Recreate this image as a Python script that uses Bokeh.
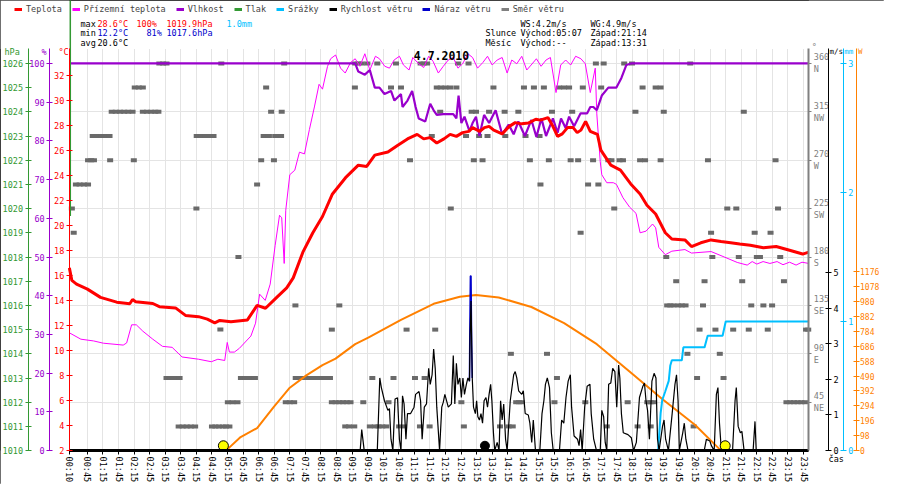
from bokeh.plotting import figure
from bokeh.models import (Range1d, LinearAxis, FixedTicker, Label, Legend, LegendItem, Grid, BoxAnnotation)
from bokeh.embed import file_html
from bokeh.resources import INLINE

FONT = "DejaVu Sans Mono"
FS = "8.5px"
NAN = float("nan")

# ---------------- data (time in hours) ----------------
time_labels = ["00:10", "00:45", "01:15", "01:45", "02:15", "02:45", "03:15", "03:45", "04:15", "04:45",
               "05:15", "05:45", "06:15", "06:45", "07:15", "07:45", "08:15", "08:45", "09:15", "09:45",
               "10:15", "10:45", "11:15", "11:45", "12:15", "12:45", "13:15", "13:45", "14:15", "14:45",
               "15:15", "15:45", "16:15", "16:45", "17:15", "17:45", "18:15", "18:45", "19:15", "19:45",
               "20:15", "20:45", "21:15", "21:45", "22:15", "22:45", "23:15", "23:45"]

temperature = [(0.17, 16.6), (0.25, 15.6), (0.40, 15.3), (0.75, 14.9), (1.17, 14.24), (1.69, 13.86), (2.11, 13.73),
               (2.20, 14.07), (2.30, 13.9), (2.85, 13.75), (3.06, 13.5), (3.58, 13.4), (3.90, 12.8), (4.32, 12.7),
               (4.60, 12.5), (4.84, 12.2), (5.00, 12.4), (5.36, 12.3), (5.89, 12.44), (6.20, 13.6), (6.47, 13.37),
               (6.83, 14.24), (7.15, 15.0), (7.36, 15.8), (7.67, 17.85), (7.99, 19.4), (8.30, 20.7), (8.62, 22.5),
               (9.04, 23.8), (9.45, 24.8), (9.72, 24.7), (9.98, 25.6), (10.40, 25.85), (10.72, 26.4), (11.03, 26.9),
               (11.34, 27.26), (11.55, 26.9), (11.75, 27.0), (11.97, 26.57), (12.20, 26.9), (12.40, 27.26),
               (12.60, 27.1), (12.80, 27.4), (13.00, 27.5), (13.12, 27.8), (13.35, 27.5), (13.50, 27.8),
               (13.65, 27.9), (13.80, 27.6), (14.07, 27.3), (14.30, 27.9), (14.49, 28.2), (14.70, 28.1),
               (14.91, 28.16), (15.15, 28.47), (15.30, 28.4), (15.54, 28.6), (15.70, 27.9), (15.85, 27.1),
               (16.00, 27.3), (16.17, 27.8), (16.35, 27.8), (16.48, 27.4), (16.60, 27.6), (16.75, 28.3),
               (16.90, 27.5), (17.13, 27.26), (17.24, 26.0), (17.56, 24.8), (17.87, 24.4), (18.20, 23.3),
               (18.50, 22.5), (18.72, 21.6), (19.00, 20.9), (19.31, 19.4), (19.52, 18.9), (19.94, 18.83),
               (20.15, 18.3), (20.45, 18.6), (20.78, 18.83), (21.10, 18.7), (21.41, 18.6), (21.70, 18.5),
               (22.04, 18.4), (22.46, 18.2), (22.87, 18.3), (23.30, 18.0), (23.72, 17.7), (23.92, 17.85)]

ground_temp = [(0.17, 11.41), (0.54, 10.9), (0.95, 10.76), (1.26, 10.58), (1.9, 10.43), (2.01, 10.6), (2.17, 12.05),
               (2.32, 12.05), (2.53, 11.54), (2.85, 10.9), (3.16, 10.33), (3.47, 10.25), (3.79, 9.48), (4.32, 9.3),
               (4.73, 9.1), (4.94, 9.3), (5.16, 9.2), (5.24, 10.64), (5.31, 9.87), (5.47, 9.87), (5.63, 10.17),
               (6.0, 11.15), (6.15, 12.18), (6.28, 14.5), (6.46, 14.0), (6.62, 15.3), (6.78, 18.4), (6.92, 20.8),
               (6.99, 20.6), (7.07, 16.95), (7.12, 21.2), (7.25, 24.04), (7.41, 24.4), (7.56, 25.84), (7.72, 25.7),
               (7.88, 27.65), (8.04, 29.45), (8.19, 31.26), (8.3, 30.87), (8.46, 32.68), (8.56, 33.3), (8.72, 33.6),
               (8.88, 32.55), (9.03, 32.16), (9.2, 33.0), (9.35, 33.3), (9.5, 32.7), (9.66, 33.7), (9.82, 32.4),
               (10.0, 33.5), (10.13, 33.3), (10.3, 32.7), (10.45, 32.55), (10.6, 33.2), (10.77, 33.5), (10.9, 32.8),
               (11.08, 32.4), (11.2, 33.4), (11.39, 32.9), (11.55, 32.6), (11.71, 33.5), (11.85, 33.1),
               (12.02, 32.16), (12.18, 32.7), (12.34, 33.2), (12.5, 33.4), (12.65, 32.55), (12.8, 32.9),
               (12.97, 33.7), (13.12, 33.4), (13.28, 32.55), (13.45, 33.0), (13.6, 33.5), (13.75, 32.8),
               (13.91, 33.2), (14.07, 33.4), (14.23, 32.16), (14.38, 33.2), (14.54, 32.9), (14.7, 33.5),
               (14.86, 32.4), (15.0, 32.8), (15.17, 33.3), (15.32, 32.7), (15.48, 33.2), (15.62, 33.4),
               (15.8, 30.6), (15.95, 32.8), (16.11, 33.2), (16.27, 32.8), (16.43, 33.5), (16.6, 33.3),
               (16.74, 32.9), (16.9, 30.6), (17.06, 32.55), (17.11, 28.9), (17.22, 25.07), (17.27, 24.04),
               (17.43, 23.4), (17.64, 23.4), (17.74, 23.27), (17.95, 22.2), (18.16, 21.46), (18.37, 20.95),
               (18.5, 19.4), (18.69, 19.53), (18.9, 20.1), (19.0, 19.8), (19.1, 18.24), (19.31, 17.65),
               (19.52, 17.93), (19.94, 18.06), (20.15, 17.78), (20.78, 17.9), (21.2, 17.47), (21.62, 17.03),
               (21.94, 16.82), (22.1, 17.1), (22.25, 16.9), (22.45, 17.1), (22.67, 16.95), (22.9, 17.1),
               (23.09, 16.85), (23.3, 17.05), (23.51, 16.82), (23.7, 17.05), (23.92, 16.95)]

humidity = [(0.17, 100), (9.35, 100), (9.45, 97.9), (9.66, 97.1), (9.82, 98.3), (9.98, 93.75), (10.13, 93.75),
            (10.29, 92.1), (10.5, 92.9), (10.61, 90.4), (10.82, 92.1), (10.87, 88.75), (11.03, 90.4),
            (11.18, 92.9), (11.29, 88.75), (11.39, 85.8), (11.6, 85.0), (11.76, 89.6), (11.87, 87.9),
            (11.97, 86.7), (12.18, 86.9), (12.5, 86.9), (12.6, 85.8), (12.67, 91.7), (12.76, 84.6),
            (12.86, 86.25), (13.02, 82.5), (13.12, 84.6), (13.23, 86.25), (13.34, 81.25), (13.49, 86.7),
            (13.65, 84.6), (13.86, 87.9), (14.07, 81.7), (14.28, 84.2), (14.44, 81.7), (14.59, 85.0),
            (14.8, 81.25), (15.01, 85.4), (15.17, 81.0), (15.33, 85.8), (15.48, 81.25), (15.7, 85.8),
            (15.85, 82.1), (15.96, 85.8), (16.11, 83.3), (16.22, 86.25), (16.38, 83.75), (16.59, 87.1),
            (16.8, 87.1), (16.9, 88.75), (17.0, 88.75), (17.11, 87.9), (17.27, 91.7), (17.48, 93.75),
            (17.74, 93.75), (17.9, 96.25), (18.06, 99.6), (18.21, 100), (23.92, 100)]

pressure = [(0.2, 1019.7), (0.2, 1029.0)]

rain = [(10.06, 0), (19.08, 0), (19.16, 0.29), (19.21, 0.39), (19.31, 0.46), (19.42, 0.54), (19.47, 0.66),
        (19.52, 0.70), (19.84, 0.70), (19.89, 0.80), (20.57, 0.80), (20.67, 0.89), (21.15, 0.89),
        (21.25, 1.0), (23.92, 1.0)]

wind_speed = [(0.17, 0), (8.72, 0), (9.51, 0), (9.56, 0.59), (9.64, 0), (10.06, 0), (10.14, 2.04), (10.19, 1.77),
              (10.29, 1.40), (10.40, 1.13), (10.45, 1.18), (10.50, 0.32), (10.56, 0), (10.63, 1.45), (10.71, 1.48),
              (10.77, 0.32), (10.82, 0), (10.87, 1.54), (10.92, 1.31), (10.98, 0.32), (11.03, 1.04), (11.13, 1.04),
              (11.24, 1.22), (11.29, 1.58), (11.40, 1.66), (11.45, 1.40), (11.50, 0.32), (11.57, 1.22),
              (11.64, 1.31), (11.71, 2.31), (11.76, 1.86), (11.82, 2.13), (11.87, 2.85), (11.92, 2.31),
              (11.97, 1.22), (12.06, 0), (12.13, 1.22), (12.18, 1.36), (12.23, 1.58), (12.34, 1.22), (12.44, 1.31),
              (12.50, 2.67), (12.55, 1.31), (12.60, 2.45), (12.65, 1.86), (12.71, 2.04), (12.76, 1.49),
              (12.81, 2.04), (12.86, 1.58), (12.92, 1.86), (12.97, 2.04), (13.02, 1.95), (13.04, 3.22),
              (13.07, 4.20), (13.11, 2.04), (13.15, 1.22), (13.21, 1.04), (13.25, 1.40), (13.29, 0.95),
              (13.34, 0.86), (13.39, 1.04), (13.44, 0.77), (13.49, 1.40), (13.55, 1.49), (13.60, 1.22),
              (13.65, 1.58), (13.70, 1.86), (13.74, 1.40), (13.79, 0.50), (13.83, 0), (13.91, 0.23), (13.97, 0),
              (14.02, 1.40), (14.07, 0.86), (14.12, 1.31), (14.18, 0.32), (14.23, 0), (14.33, 1.40), (14.44, 2.13),
              (14.49, 2.22), (14.54, 2.04), (14.60, 1.68), (14.70, 1.58), (14.75, 1.68), (14.81, 1.04),
              (14.91, 1.00), (14.96, 0.77), (15.02, 0.23), (15.07, 0.86), (15.14, 0), (15.28, 0), (15.35, 1.04),
              (15.41, 1.40), (15.46, 1.86), (15.52, 2.04), (15.59, 1.77), (15.65, 0.50), (15.71, 0), (15.91, 0),
              (15.98, 0.86), (16.05, 0.77), (16.12, 1.49), (16.19, 1.95), (16.26, 2.13), (16.30, 1.22),
              (16.38, 0.41), (16.49, 0.32), (16.54, 0.14), (16.59, 0.59), (16.64, 0), (16.72, 1.22), (16.80, 1.81),
              (16.89, 1.86), (16.93, 1.04), (17.01, 0.32), (17.10, 0), (17.22, 0), (17.27, 1.13), (17.33, 0.95),
              (17.38, 0.23), (17.43, 0), (17.49, 1.86), (17.56, 1.90), (17.62, 2.31), (17.69, 2.22), (17.75, 1.22),
              (17.81, 2.40), (17.85, 2.04), (17.90, 1.04), (17.96, 0.50), (18.11, 0.45), (18.22, 0.36),
              (18.29, 0), (18.38, 0.23), (18.48, 1.49), (18.59, 1.81), (18.64, 1.90), (18.69, 1.40), (18.74, 1.13),
              (18.80, 0.32), (18.88, 1.95), (18.95, 2.17), (19.01, 2.04), (19.06, 0.32), (19.11, 0), (19.22, 0.68),
              (19.27, 0.86), (19.32, 0.32), (19.41, 0), (19.53, 1.04), (19.62, 1.86), (19.67, 2.13), (19.72, 1.40),
              (19.76, 0), (19.87, 0.50), (19.92, 0.77), (19.97, 0.32), (20.04, 0), (20.56, 0), (20.63, 0.32),
              (20.74, 0.27), (20.79, 0.14), (20.88, 0), (20.95, 1.58), (21.00, 1.77), (21.05, 0.77), (21.11, 0),
              (21.47, 0), (21.55, 1.40), (21.59, 1.77), (21.65, 0.68), (21.72, 0.50), (21.77, 0.54), (21.84, 0),
              (22.13, 0), (22.19, 0.82), (22.23, 0), (23.92, 0)]

wind_gust = [(13.02, 1.95), (13.03, 3.2), (13.05, 4.9), (13.07, 4.9), (13.09, 3.0), (13.11, 2.04)]

solar = [(5.2, 0), (5.67, 89), (6.2, 148), (6.73, 286), (7.25, 413), (7.78, 494), (8.3, 561), (8.72, 604),
         (9.35, 699), (9.77, 742), (10.82, 858), (11.87, 964), (12.71, 1011), (13.23, 1022), (13.96, 1006),
         (15.01, 943), (16.06, 837), (17.11, 699), (18.16, 519), (19.21, 339), (20.26, 170), (21.1, 0), (22.2, 0)]

# wind direction samples (hours) per compass direction (degrees)
dir_360 = [3.06, 3.18, 3.29, 5.05, 7.07, 9.35, 9.45, 9.56, 9.74, 10.06, 10.66, 11.45, 11.55, 11.66, 12.65, 12.99,
           17.08, 17.33, 17.99, 18.24, 20.11]
dir_337 = [2.27, 2.4, 2.53, 6.49, 9.34, 10.5, 10.82, 11.97, 12.1, 12.25, 12.4, 12.6, 13.79, 14.77, 15.09, 15.41,
           15.9, 16.06, 16.22, 16.66, 17.25, 18.58, 19.0, 19.16]
dir_315 = [1.53, 1.66, 1.8, 1.93, 2.06, 2.2, 2.53, 2.66, 2.8, 2.93, 3.03, 6.65, 6.99, 12.08, 13.09, 13.23, 13.65,
           14.15, 14.59, 15.67, 16.32, 18.35, 19.26, 21.83]
dir_292 = [0.92, 1.05, 1.19, 1.32, 1.46, 4.26, 4.4, 4.53, 4.66, 4.8, 6.41, 6.58, 6.78, 6.88, 6.97, 11.81, 12.91,
           13.33, 13.6, 14.17, 14.82, 15.27]
dir_270 = [0.77, 0.87, 0.96, 1.48, 2.24, 6.33, 6.74, 11.11, 13.16, 13.44, 14.96, 15.57, 16.27, 16.51, 16.99, 17.48,
           17.58, 17.84, 17.95, 18.5, 18.66, 19.16, 20.68, 22.85]
dir_247 = [0.38, 0.5, 0.64, 0.77, 6.2, 15.3, 16.83, 17.16]
dir_225 = [0.25, 4.25, 12.42, 17.67, 21.3, 21.59, 22.93]
dir_202 = [0.31, 16.59, 20.78, 22.18, 22.69]
dir_180 = [5.6, 19.34, 20.82, 21.67, 22.25, 22.35, 23.0]
dir_157 = [19.66, 20.57, 21.78, 23.12]
dir_135 = [7.43, 8.84, 19.37, 19.47, 19.57, 19.73, 19.84, 19.96, 20.52, 22.07, 22.46, 22.74]
dir_112 = [5.02, 8.6, 11.0, 11.92, 20.41, 20.92, 21.49, 21.99, 22.6, 23.83, 23.9]
dir_090 = [14.35, 15.51, 20.02, 21.06]
dir_067 = [3.29, 3.43, 3.57, 3.71, 5.68, 5.83, 5.98, 6.13, 7.44, 7.56, 7.68, 7.8, 7.92, 8.04, 8.16, 8.28, 8.4,
           8.54, 9.9, 10.58, 11.27, 11.58, 15.83, 20.33, 21.18]
dir_045 = [5.26, 5.41, 5.57, 7.12, 7.25, 7.39, 8.6, 8.72, 8.84, 8.96, 9.08, 9.2, 9.61, 10.42, 12.76, 14.52, 14.61,
           14.7, 15.75, 16.74, 18.1, 18.73, 18.84, 18.95, 23.2, 23.32, 23.44, 23.56, 23.68, 23.8]
dir_022 = [3.68, 3.81, 3.94, 4.07, 4.21, 4.75, 4.86, 4.97, 5.1, 5.2, 5.31, 9.03, 9.15, 9.32, 9.82, 9.98, 10.1,
           10.22, 10.35, 10.76, 10.92, 11.43, 11.74, 12.84, 14.0, 14.28, 14.41, 17.43, 18.42, 18.84, 20.22]
dir_groups = [(360, dir_360), (337.5, dir_337), (315, dir_315), (292.5, dir_292), (270, dir_270),
              (247.5, dir_247), (225, dir_225), (202.5, dir_202), (180, dir_180), (157.5, dir_157),
              (135, dir_135), (112.5, dir_112), (90, dir_090), (67.5, dir_067), (45, dir_045), (22.5, dir_022)]

sun_events = ["05:07", "21:14"]
moon_events = ["13:31"]

hpa_ticks = list(range(1010, 1027))
hum_ticks = list(range(0, 101, 10))
temp_ticks = list(range(2, 33, 2))
dir_ticks = [45, 90, 135, 180, 225, 270, 315, 360]
dir_names = ["NE", "E", "SE", "S", "SW", "W", "NW", "N"]
ws_ticks = [0, 1, 2, 3, 4, 5]
rain_ticks = [0, 1, 2, 3]
sol_ticks = [0, 98, 196, 294, 392, 490, 588, 686, 784, 882, 980, 1078, 1176]

legend_names = ["Teplota", "Přízemní teplota", "Vlhkost", "Tlak", "Srážky", "Rychlost větru", "Náraz větru",
                "Směr větru"]

stats_max = ["max", "28.6°C", "100%", "1019.9hPa", "1.0mm"]
stats_min = ["min", "12.2°C", "81%", "1017.6hPa"]
stats_avg = ["avg", "20.6°C"]
wind_stats = ["WS:4.2m/s", "WG:4.9m/s"]
sun_text = ["Slunce", "Východ:05:07", "Západ:21:14"]
moon_text = ["Měsíc", "Východ:--", "Západ:13:31"]
title_text = "4.7.2010"
unit_labels = ["hPa", "%", "°C", "°", "m/s", "mm", "W"]
time_axis_name = "čas"

# ---------------- colours ----------------
C_TEMP = "#ff0000"
C_GROUND = "#ff00ff"
C_HUM = "#9900cc"
C_PRES = "#339933"
C_RAIN = "#00bfff"
C_WS = "#000000"
C_WG = "#0000cc"
C_DIR = "#6a6a6a"
C_SOL = "#ff8000"
C_DIRAXIS = "#808080"
C_MIN = "#0000cc"
C_GRID = "#e4e4e4"


def hm(s):
    h, m = s.split(":")
    return int(h) + int(m) / 60.0


def split(pairs):
    return [a for a, b in pairs], [b for a, b in pairs]


tick_pos = [hm(s) for s in time_labels]
T0 = tick_pos[0]

# ---------------- geometry: the plot frame fills the whole canvas ----------------
W, H = 884, 484
REF_W, REF_H = 900.0, 500.0
SX, SY = W / REF_W, H / REF_H
PX_PER_H = 31.7                     # reference pixels per hour
X_LEFT, X_RIGHT = 70, 823           # reference plot-area edges
Y_TOP, Y_BOT = 50, 465


def t_at(xr):
    return T0 + (xr - X_LEFT) / PX_PER_H


def rng_for(v0, px_per_unit):
    """range whose value v0 sits at reference y=465, spanning the whole reference canvas"""
    return Range1d(v0 - (REF_H - Y_BOT) / px_per_unit, v0 + Y_BOT / px_per_unit)


def top_of(v0, px_per_unit):
    return v0 + (Y_BOT - Y_TOP) / px_per_unit


T_END = t_at(X_RIGHT)
scales = {"default": (0, 400 / 360.0), "temp": (2, 388 / 30.0), "hum": (0, 4.0), "pres": (1010, 25.0),
          "ws": (0, 36.8), "rain": (0, 400 / 3.0), "sol": (0, 185 / 1176.0)}

p = figure(width=W, height=H, x_range=Range1d(t_at(0), t_at(REF_W)), y_range=rng_for(*scales["default"]),
           x_axis_location=None, y_axis_location=None, toolbar_location=None, output_backend="svg",
           min_border=0)
p.outline_line_color = "black"
p.extra_y_ranges = {k: rng_for(*v) for k, v in scales.items() if k != "default"}
for g in list(p.center):
    if isinstance(g, Grid):
        g.visible = False


def style_axis(ax, color, ticks, overrides=None, lw=1, tin=3, tout=3, standoff=2, size=FS):
    ax.ticker = FixedTicker(ticks=ticks)
    ax.axis_line_color = color
    ax.axis_line_width = lw
    ax.major_tick_line_color = color
    ax.major_tick_in = tin
    ax.major_tick_out = tout
    ax.minor_tick_line_color = None
    ax.major_label_text_color = color
    ax.major_label_text_font = FONT
    ax.major_label_text_font_size = size
    ax.major_label_standoff = standoff
    if overrides:
        ax.major_label_overrides = overrides


# grid lines (only inside the data area)
xg = Grid(dimension=0, ticker=FixedTicker(ticks=tick_pos), grid_line_color=C_GRID)
yg = Grid(dimension=1, ticker=FixedTicker(ticks=dir_ticks), grid_line_color=C_GRID)
if "cross_bounds" in Grid.properties():
    xg.cross_bounds = (0, top_of(*scales["default"]))
    yg.cross_bounds = (T0, T_END)
p.add_layout(xg)
p.add_layout(yg)
for kw in [dict(right=T0), dict(left=T_END), dict(bottom=top_of(*scales["default"])), dict(top=0)]:
    p.add_layout(BoxAnnotation(fill_color="white", fill_alpha=1, line_alpha=0, level="underlay", **kw))

# time axis
xa = LinearAxis(fixed_location=0, bounds=(T0, T_END))
style_axis(xa, "black", tick_pos, {t: s for t, s in zip(tick_pos, time_labels)}, lw=3, tin=0, tout=4)
xa.major_label_orientation = "vertical"
p.add_layout(xa, "below")

# left axes
for rng, color, ticks, xr in [("temp", C_TEMP, temp_ticks, 70), ("hum", C_HUM, hum_ticks, 50),
                              ("pres", C_PRES, hpa_ticks, 28)]:
    ax = LinearAxis(y_range_name=rng, fixed_location=t_at(xr), bounds=(scales[rng][0], top_of(*scales[rng])))
    style_axis(ax, color, ticks)
    p.add_layout(ax, "left")

# right axes
da = LinearAxis(fixed_location=T_END, bounds=(0, top_of(*scales["default"])))
style_axis(da, C_DIRAXIS, dir_ticks, {d: f"{d}\n{n}" for d, n in zip(dir_ticks, dir_names)}, lw=2, tin=0)
p.add_layout(da, "right")
for rng, color, ticks, xr, so, sz in [("ws", "black", ws_ticks, 843, 2, FS), ("rain", C_RAIN, rain_ticks, 858, 2, FS),
                                      ("sol", C_SOL, sol_ticks, 871, 1, "8px")]:
    ax = LinearAxis(y_range_name=rng, fixed_location=t_at(xr), bounds=(scales[rng][0], top_of(*scales[rng])))
    style_axis(ax, color, ticks, standoff=so, size=sz)
    p.add_layout(ax, "right")

# ---------------- glyphs ----------------
for deg, times in dir_groups:
    p.rect(x=times, y=[deg] * len(times), width=6, height=4, width_units="screen", height_units="screen",
           fill_color=C_DIR, line_color=None)

t, v = split(solar)
p.line(t, v, y_range_name="sol", color=C_SOL, line_width=2)
t, v = split(rain)
p.line(t, v, y_range_name="rain", color=C_RAIN, line_width=2)
t, v = split(ground_temp)
p.line(t, v, y_range_name="temp", color=C_GROUND, line_width=1)
t, v = split(humidity)
p.line(t, v, y_range_name="hum", color=C_HUM, line_width=2.2)
t, v = split(temperature)
p.line(t, v, y_range_name="temp", color=C_TEMP, line_width=3)
t, v = split(pressure)
p.line(t, v, y_range_name="pres", color=C_PRES, line_width=1.5)
t, v = split(wind_gust)
p.line(t, v, y_range_name="ws", color=C_WG, line_width=1.5)
t, v = split(wind_speed)
p.line(t, v, y_range_name="ws", color=C_WS, line_width=1.2)

MARK_Y = 4.5
p.scatter([hm(s) for s in sun_events], [MARK_Y] * len(sun_events), size=10, fill_color="#ffff00",
          line_color="black", line_width=1)
p.scatter([hm(s) for s in moon_events], [MARK_Y] * len(moon_events), size=9, fill_color="black",
          line_color="black")

# ---------------- legend (header, reference x kept as is) ----------------
leg_colors = [C_TEMP, C_GROUND, C_HUM, C_PRES, C_RAIN, C_WS, C_WG, C_DIRAXIS]
items = []
for name, col in zip(legend_names, leg_colors):
    r = p.line([NAN], [NAN], color=col, line_width=3)
    items.append(LegendItem(label=name, renderers=[r]))
p.add_layout(Legend(items=items, orientation="horizontal", location=(14, H - (9 * SY + 5)),
                    glyph_width=8, glyph_height=10, label_standoff=4, spacing=10, padding=0, margin=0,
                    border_line_color=None, background_fill_alpha=0, label_text_font=FONT,
                    label_text_font_size=FS, label_height=10, label_width=10))


# ---------------- texts ----------------
def txt(x, yr, s, color="black", size=FS, bold=False, align="left"):
    p.add_layout(Label(x=x, y=H - yr * SY, x_units="screen", y_units="screen", text=s,
                       text_color=color, text_font=FONT, text_font_size=size,
                       text_font_style="bold" if bold else "normal", text_baseline="middle",
                       text_align=align))


# header statistics (header positions kept at reference x)
for xx, s, c in zip([80, 97, 136, 166, 226], stats_max, ["black", C_TEMP, C_TEMP, C_TEMP, C_RAIN]):
    txt(xx, 24, s, c)
for xx, s, c in zip([80, 97, 146, 166], stats_min, ["black", C_MIN, C_MIN, C_MIN]):
    txt(xx, 34, s, c)
for xx, s in zip([80, 97], stats_avg):
    txt(xx, 44, s)
for xx, s in zip([520, 590], wind_stats):
    txt(xx, 24, s)
for xx, s in zip([485, 520, 590], sun_text):
    txt(xx, 34, s)
for xx, s in zip([485, 520, 590], moon_text):
    txt(xx, 44, s)

# texts tied to the plot area / axes (scaled with the chart)
txt(449 * SX, 57, title_text, size="11.5px", bold=True, align="center")
txt(4, 53, unit_labels[0], C_PRES)
txt(41, 53, unit_labels[1], C_HUM)
txt(58, 53, unit_labels[2], C_TEMP)
txt(826 * SX, 48, unit_labels[3], C_DIRAXIS)
txt(844 * SX, 53, unit_labels[4], "black", size="7.5px")
txt(859 * SX, 53, unit_labels[5], C_RAIN, size="7.5px")
txt(873 * SX, 53, unit_labels[6], C_SOL, size="7.5px")
txt(843 * SX, 474, time_axis_name, "black")

open("out.html", "w").write(file_html(p, INLINE))
